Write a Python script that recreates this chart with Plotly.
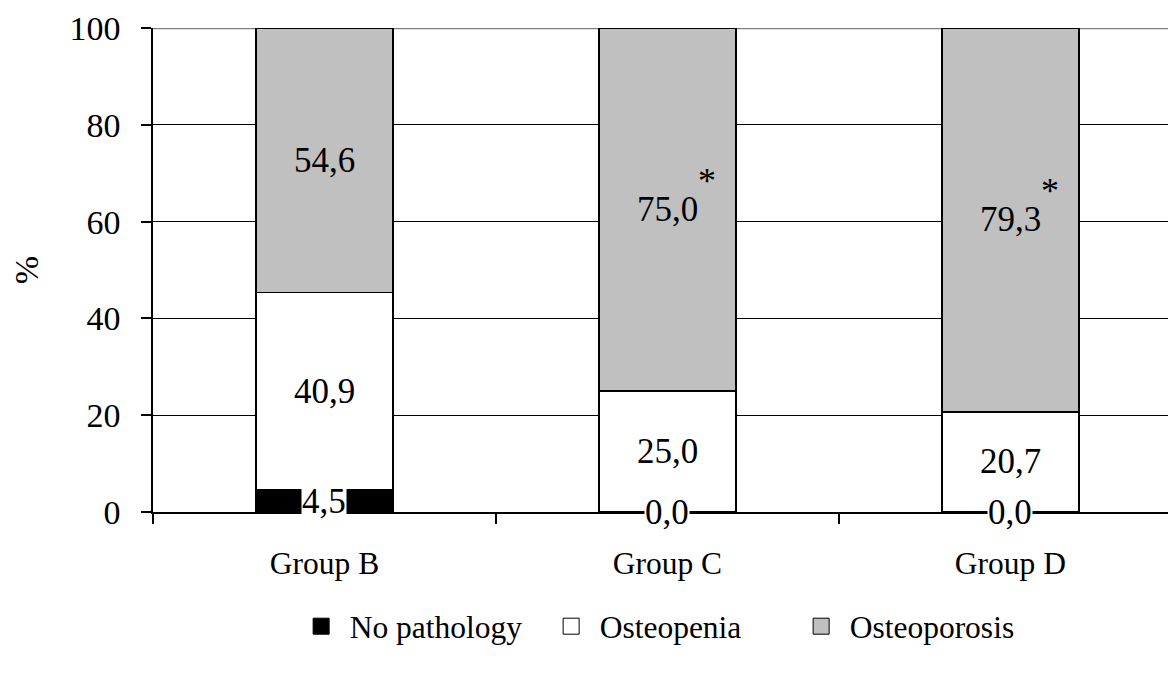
import plotly.graph_objects as go

groups = ["Group B", "Group C", "Group D"]
series_names = ["No pathology", "Osteopenia", "Osteoporosis"]
no_pathology = [4.5, 0.0, 0.0]
osteopenia = [40.9, 25.0, 20.7]
osteoporosis = [54.6, 75.0, 79.3]
osteoporosis_marks = ["", "*", "*"]
y_ticks = [0, 20, 40, 60, 80, 100]

FONT = "Liberation Serif"
colors = ["#000000", "#ffffff", "#c0c0c0"]
series_values = [no_pathology, osteopenia, osteoporosis]
X_RANGE = [-0.5, 2.483]

fig = go.Figure()
for name, vals, col in zip(series_names, series_values, colors):
    fig.add_trace(go.Bar(
        x=groups, y=vals, name=name, width=0.4,
        marker=dict(color=col, line=dict(color="black", width=1.5)),
        showlegend=False, hoverinfo="x+y+name",
    ))
for name, col in zip(series_names, colors):
    fig.add_trace(go.Scatter(
        x=[None], y=[None], mode="markers", name=name,
        marker=dict(symbol="square", size=16, color=col,
                    line=dict(color="black", width=1)),
    ))

annotations = []
base = [0.0] * len(groups)
for si, vals in enumerate(series_values):
    for gi, g in enumerate(groups):
        v = vals[gi]
        txt = f"{v:.1f}".replace(".", ",")
        ann = dict(x=g, y=base[gi] + v / 2, text=txt, showarrow=False,
                   font=dict(family=FONT, size=35, color="black"),
                   xanchor="center", yanchor="middle")
        if si == 0:
            ann.update(bgcolor="white", borderpad=0)
        annotations.append(ann)
        if si == 2 and osteoporosis_marks[gi]:
            annotations.append(dict(
                x=g, y=base[gi] + v / 2, text=osteoporosis_marks[gi],
                showarrow=False, xshift=40, yshift=29,
                font=dict(family=FONT, size=36, color="black")))
    base = [b + v for b, v in zip(base, vals)]

fig.update_layout(
    barmode="stack",
    width=1168, height=665,
    margin=dict(l=145, r=0, t=20, b=161, autoexpand=False),
    paper_bgcolor="white", plot_bgcolor="white",
    font=dict(family=FONT, color="black"),
    annotations=annotations,
    showlegend=True,
    legend=dict(orientation="h", x=0.1365, xanchor="left", y=-0.236,
                yanchor="middle", traceorder="normal",
                font=dict(family=FONT, size=31.5, color="black"),
                itemwidth=47, entrywidth=188, entrywidthmode="pixels",
                bgcolor="rgba(0,0,0,0)"),
    shapes=[dict(type="line", xref="x", yref="y",
                 x0=X_RANGE[0], x1=X_RANGE[1], y0=y_ticks[-1], y1=y_ticks[-1],
                 layer="between",
                 line=dict(color="#808080", width=2.5))],
)
fig.update_xaxes(
    range=X_RANGE, showgrid=False, showline=True, linecolor="black",
    linewidth=1.5, ticks="outside", tickson="boundaries", ticklen=10,
    tickcolor="black", tickwidth=1.5, ticklabelstandoff=22,
    tickfont=dict(family=FONT, size=31.5, color="black"),
)
fig.update_yaxes(
    range=[0, 100], tickvals=y_ticks, showgrid=True, gridcolor="black",
    gridwidth=1.2, zeroline=False, showline=True, linecolor="black",
    linewidth=1.5, ticks="outside", ticklen=10, tickcolor="black",
    tickwidth=1.5, ticklabelstandoff=14,
    tickfont=dict(family=FONT, size=34, color="black"),
    title=dict(text="%", standoff=22, font=dict(family=FONT, size=34, color="black")),
)

fig.write_html("out.html")
